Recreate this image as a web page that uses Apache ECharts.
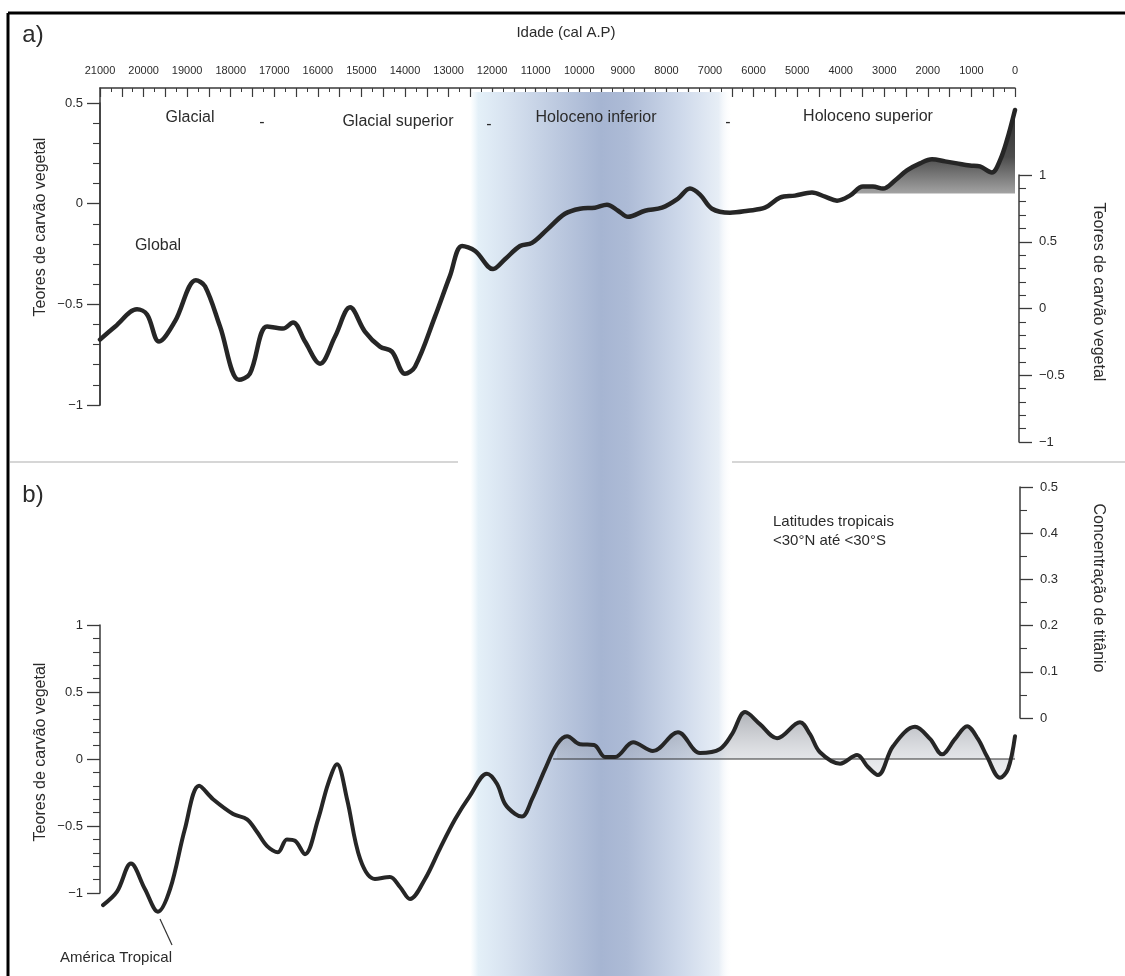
<!DOCTYPE html>
<html>
<head>
<meta charset="utf-8">
<style>
  html, body { margin: 0; padding: 0; background: #ffffff; }
  #chart { width: 1125px; height: 976px; }
</style>
<script src="https://cdn.jsdelivr.net/npm/echarts@6/dist/echarts.min.js"></script>
</head>
<body>
<div id="chart"></div>
<script>
// Age scale (cal yr BP), shared by both panels
const AGE_MAX = 21000;
const AGE_MIN = 0;

// Panel a) global charcoal record
const globalAges = [21000, 20650, 20150, 19920, 19645, 19280, 18800, 18590, 18245, 17810, 17560, 17165, 16800, 16570, 16295, 15950, 15605, 15260, 14920, 14575, 14300, 14000, 13770, 13310, 12970, 12690, 12390, 11980, 11700, 11360, 11085, 10720, 10330, 9985, 9640, 9365, 9110, 8880, 8490, 8100, 7735, 7460, 7230, 6955, 6540, 6130, 5740, 5395, 5050, 4660, 4360, 4085, 3790, 3490, 3260, 3030, 2755, 2480, 2180, 1905, 1605, 1330, 1035, 805, 530, 345, 185, 0];
const globalValues = [-0.675, -0.61, -0.525, -0.55, -0.685, -0.585, -0.38, -0.41, -0.61, -0.875, -0.845, -0.61, -0.62, -0.59, -0.685, -0.795, -0.66, -0.515, -0.635, -0.71, -0.735, -0.845, -0.81, -0.56, -0.36, -0.21, -0.235, -0.325, -0.275, -0.21, -0.195, -0.125, -0.05, -0.025, -0.02, -0.005, -0.035, -0.065, -0.035, -0.02, 0.025, 0.075, 0.045, -0.025, -0.045, -0.035, -0.02, 0.03, 0.04, 0.055, 0.035, 0.015, 0.04, 0.085, 0.085, 0.075, 0.115, 0.165, 0.2, 0.22, 0.21, 0.2, 0.19, 0.185, 0.155, 0.215, 0.315, 0.465];

// Panel b) tropical America charcoal record
const tropicalAges = [20930, 20610, 20290, 19970, 19670, 19390, 19050, 18725, 18405, 17945, 17625, 17395, 17165, 16915, 16710, 16525, 16295, 15995, 15765, 15560, 15330, 15030, 14690, 14345, 14115, 13885, 13540, 13200, 12850, 12510, 12120, 11890, 11705, 11475, 11315, 11085, 10785, 10510, 10280, 9985, 9660, 9410, 9180, 8765, 8310, 7735, 7230, 6770, 6495, 6195, 5855, 5460, 4935, 4705, 4475, 4015, 3625, 3375, 3145, 2800, 2295, 1950, 1675, 1375, 1100, 850, 645, 345, 160, 0];
const tropicalValues = [-1.09, -0.99, -0.78, -0.97, -1.14, -0.97, -0.52, -0.2, -0.3, -0.41, -0.45, -0.545, -0.65, -0.695, -0.6, -0.61, -0.71, -0.45, -0.185, -0.04, -0.3, -0.745, -0.895, -0.88, -0.955, -1.045, -0.895, -0.67, -0.45, -0.275, -0.11, -0.185, -0.335, -0.41, -0.43, -0.3, -0.075, 0.11, 0.17, 0.11, 0.105, 0.015, 0.015, 0.125, 0.06, 0.2, 0.045, 0.075, 0.185, 0.35, 0.26, 0.155, 0.275, 0.185, 0.05, -0.035, 0.03, -0.06, -0.12, 0.095, 0.24, 0.15, 0.035, 0.15, 0.245, 0.15, 0.02, -0.14, -0.075, 0.17];

// Shaded intervals and reference levels
const globalFillFrom = 3800;      // dark fill under the late-Holocene rise
const globalFillBase = 0.05;
const tropicalBaseFrom = 10600;   // zero reference line in panel b
const bandFrom = 12500;           // highlighted early-Holocene band
const bandTo = 6500;

// Period names along the top of panel a
const periodLabels = ['Glacial', '-', 'Glacial superior', '-', 'Holoceno inferior', '-', 'Holoceno superior'];

const pairs = (ages, vals) => ages.map((a, i) => [a, vals[i]]);
const globalData = pairs(globalAges, globalValues);
const tropicalData = pairs(tropicalAges, tropicalValues);
const globalFillData = globalData.filter(p => p[0] <= globalFillFrom);
const tropicalFillData = tropicalData.filter(p => p[0] <= tropicalBaseFrom);
const tropicalBaseData = [[tropicalBaseFrom, 0], [AGE_MIN, 0]];

const FONT = '"Liberation Sans", Arial, Helvetica, sans-serif';
const AX = '#3a3a3a';
const TXT = '#2b2b2b';
const minus = v => String(v).replace('-', '\u2212');

const chart = echarts.init(document.getElementById('chart'), null, { renderer: 'canvas' });

function ageAxis(gridIndex, visible) {
  const ax = {
    type: 'value', gridIndex, min: AGE_MIN, max: AGE_MAX, inverse: true,
    show: visible, splitLine: { show: false },
    axisLine: { onZero: false }
  };
  if (visible) {
    Object.assign(ax, {
      position: 'top', interval: 500,
      axisLine: { show: true, onZero: false, lineStyle: { color: AX, width: 1.5 } },
      axisTick: { show: true, inside: true, length: 9, lineStyle: { color: AX, width: 1.2 } },
      minorTick: { show: true, splitNumber: 2, length: 4, lineStyle: { color: AX, width: 1 } },
      axisLabel: {
        show: true, margin: 12, fontSize: 11, color: TXT, fontFamily: FONT,
        formatter: v => (v % 1000 === 0 ? String(v) : '')
      }
    });
  }
  return ax;
}

function valueAxis(gridIndex, pos, min, max, interval, minorSplit, labelMargin) {
  return {
    type: 'value', gridIndex, position: pos, min, max, interval,
    splitLine: { show: false },
    axisLine: { show: true, onZero: false, lineStyle: { color: AX, width: 1.5 } },
    axisTick: { show: true, length: 13, lineStyle: { color: AX, width: 1.3 } },
    minorTick: { show: true, splitNumber: minorSplit, length: 7, lineStyle: { color: AX, width: 1.1 } },
    axisLabel: { show: true, margin: labelMargin, fontSize: 13, color: TXT, fontFamily: FONT, formatter: minus }
  };
}

const text = (x, y, t, opts = {}) => ({
  type: 'text', x, y, z: 100, rotation: opts.rotation || 0, silent: true,
  style: {
    text: t, x: 0, y: 0, fill: TXT,
    font: (opts.size || 16) + 'px ' + FONT,
    align: opts.align || 'center', verticalAlign: 'middle'
  }
});
const line = (x1, y1, x2, y2, stroke, w) => ({
  type: 'line', silent: true, z: 100,
  shape: { x1, y1, x2, y2 }, style: { stroke, lineWidth: w }
});

const periodPos = [[190, 118], [262, 123], [398, 122], [489, 125], [596, 118], [728, 123], [868, 117]];

const option = {
  backgroundColor: '#ffffff',
  animation: false,
  grid: [
    { left: 100, right: 110, top: 88, height: 317 },   // 0 frame for top age axis
    { left: 100, right: 110, top: 103, height: 302 },  // 1 panel a data
    { left: 100, right: 106, top: 175, height: 267 },  // 2 panel a right scale
    { left: 100, right: 110, top: 625, height: 268 },  // 3 panel b data
    { left: 100, right: 105, top: 487, height: 231 },  // 4 panel b titanium scale
    { left: 100, right: 110, top: 92, bottom: 0 }      // 5 band
  ],
  xAxis: [
    ageAxis(0, true), ageAxis(1, false), ageAxis(2, false),
    ageAxis(3, false), ageAxis(4, false), ageAxis(5, false)
  ],
  yAxis: [
    { type: 'value', gridIndex: 0, min: 0, max: 1, position: 'left',
      axisLine: { show: true, onZero: false, lineStyle: { color: AX, width: 1.5 } },
      axisTick: { show: false }, axisLabel: { show: false }, splitLine: { show: false } },
    valueAxis(1, 'left', -1, 0.5, 0.5, 5, 17),
    valueAxis(2, 'right', -1, 1, 0.5, 5, 20),
    valueAxis(3, 'left', -1, 1, 0.5, 5, 17),
    valueAxis(4, 'right', 0, 0.5, 0.1, 2, 20),
    { type: 'value', gridIndex: 5, min: 0, max: 1, show: false }
  ],
  series: [
    {
      name: 'band', type: 'line', xAxisIndex: 5, yAxisIndex: 5, data: [], z: 1, silent: true,
      markArea: {
        silent: true,
        itemStyle: {
          color: new echarts.graphic.LinearGradient(0, 0, 1, 0, [
            { offset: 0.0, color: 'rgba(232,244,251,0)' },
            { offset: 0.03, color: '#e4f0f8' },
            { offset: 0.15, color: '#d6e1ef' },
            { offset: 0.35, color: '#bac7de' },
            { offset: 0.5, color: '#a6b5d2' },
            { offset: 0.6, color: '#adbbd6' },
            { offset: 0.8, color: '#cdd8ea' },
            { offset: 0.95, color: '#e7eef6' },
            { offset: 1.0, color: 'rgba(255,255,255,0)' }
          ])
        },
        data: [[{ xAxis: bandFrom }, { xAxis: bandTo }]]
      }
    },
    {
      name: 'Global fill', type: 'line', xAxisIndex: 1, yAxisIndex: 1, data: globalFillData,
      smooth: 0.35, showSymbol: false, z: 2, silent: true,
      lineStyle: { width: 0 },
      areaStyle: {
        origin: globalFillBase, opacity: 1,
        color: new echarts.graphic.LinearGradient(0, 0, 0, 1, [
          { offset: 0, color: '#2e2e2e' },
          { offset: 0.55, color: '#4d4d4d' },
          { offset: 1, color: '#a8a8a8' }
        ])
      }
    },
    {
      name: 'Global', type: 'line', xAxisIndex: 1, yAxisIndex: 1, data: globalData,
      smooth: 0.35, showSymbol: false, z: 4, clip: false,
      lineStyle: { color: '#262626', width: 4.5, cap: 'round', join: 'round' }
    },
    {
      name: 'Tropical fill', type: 'line', xAxisIndex: 3, yAxisIndex: 3, data: tropicalFillData,
      smooth: 0.35, showSymbol: false, z: 2, silent: true,
      lineStyle: { width: 0 },
      areaStyle: {
        origin: 0, opacity: 1,
        color: new echarts.graphic.LinearGradient(0, 0, 0, 1, [
          { offset: 0, color: 'rgba(110,115,125,0.55)' },
          { offset: 0.6, color: 'rgba(160,165,175,0.35)' },
          { offset: 1, color: 'rgba(190,195,205,0.25)' }
        ])
      }
    },
    {
      name: 'Tropical base', type: 'line', xAxisIndex: 3, yAxisIndex: 3, data: tropicalBaseData,
      showSymbol: false, z: 3, silent: true,
      lineStyle: { color: '#333333', width: 1.2 }
    },
    {
      name: 'América Tropical', type: 'line', xAxisIndex: 3, yAxisIndex: 3, data: tropicalData,
      smooth: 0.35, showSymbol: false, z: 4, clip: false,
      lineStyle: { color: '#262626', width: 4, cap: 'round', join: 'round' }
    }
  ],
  graphic: [
    // frame
    line(8, 13, 1125, 13, '#000000', 3),
    line(8, 13, 8, 976, '#000000', 3),
    // panel separator
    line(10, 462, 458, 462, '#d6d6d6', 2),
    line(732, 462, 1125, 462, '#d6d6d6', 2),
    // panel tags and titles
    text(33, 35, 'a)', { size: 24 }),
    text(33, 495, 'b)', { size: 24 }),
    text(566, 33, 'Idade (cal A.P)', { size: 15 }),
    ...periodLabels.map((t, i) => text(periodPos[i][0], periodPos[i][1], t, { size: 16 })),
    text(158, 246, 'Global', { size: 16 }),
    text(41, 227, 'Teores de carvão vegetal', { size: 16, rotation: Math.PI / 2 }),
    text(1098, 292, 'Teores de carvão vegetal', { size: 16, rotation: -Math.PI / 2 }),
    text(41, 752, 'Teores de carvão vegetal', { size: 16, rotation: Math.PI / 2 }),
    text(1098, 588, 'Concentração de titânio', { size: 16, rotation: -Math.PI / 2 }),
    text(773, 522, 'Latitudes tropicais', { size: 15, align: 'left' }),
    text(773, 541, '<30°N até <30°S', { size: 15, align: 'left' }),
    text(60, 958, 'América Tropical', { size: 15, align: 'left' }),
    line(160, 919, 172, 945, '#333333', 1.2)
  ]
};

chart.setOption(option);
</script>
</body>
</html>
